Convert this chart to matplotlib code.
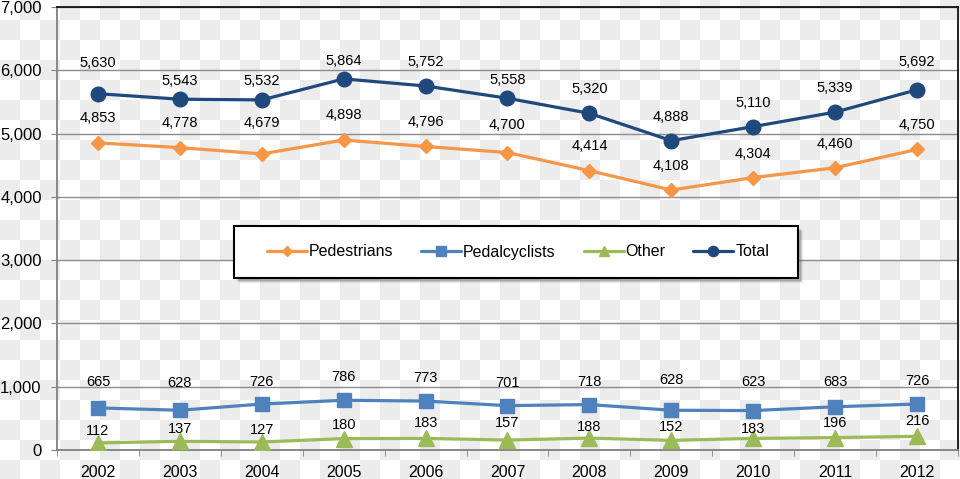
import numpy as np
import matplotlib
matplotlib.use("Agg")
import matplotlib.pyplot as plt
from matplotlib.patches import Rectangle

plt.rcParams['font.family'] = ['Liberation Sans', 'DejaVu Sans']

years = ['2002', '2003', '2004', '2005', '2006', '2007', '2008', '2009', '2010', '2011', '2012']
total = [5630, 5543, 5532, 5864, 5752, 5558, 5320, 4888, 5110, 5339, 5692]
pedestrians = [4853, 4778, 4679, 4898, 4796, 4700, 4414, 4108, 4304, 4460, 4750]
pedalcyclists = [665, 628, 726, 786, 773, 701, 718, 628, 623, 683, 726]
other = [112, 137, 127, 180, 183, 157, 188, 152, 183, 196, 216]

# data-label lift above each point, in pixels (as placed in the original)
lift_total = [31, 18, 19, 18, 24, 18, 24, 24, 24, 24, 28]
lift_ped = [25, 25, 31, 25, 24, 28, 25, 24, 24, 24, 24]
lift_pedal = [26, 27, 22, 23, 23, 23, 23, 30, 29, 25, 23]
lift_other = [12, 12, 12, 14, 15, 17, 11, 13, 9, 15, 15]

W, H = 960, 479
fig = plt.figure(figsize=(W / 100, H / 100), dpi=100)

# checkered (transparency) background, 20px squares
bg = fig.add_axes([0, 0, 1, 1], zorder=-10)
yy, xx = np.mgrid[0:H, 0:W]
checker = np.where(((xx // 20) + (yy // 20)) % 2 == 1, 0.925, 1.0)
bg.imshow(checker, cmap='gray', vmin=0, vmax=1, interpolation='nearest',
          aspect='auto', extent=(0, W, H, 0))
bg.set_axis_off()

ax = fig.add_axes([57 / W, 1 - 450 / H, (958 - 57) / W, (450 - 7) / H])
ax.set_facecolor('none')

x = np.arange(len(years))

series = [
    ('Pedestrians', pedestrians, lift_ped, '#F79646', 'D', 7.5),
    ('Pedalcyclists', pedalcyclists, lift_pedal, '#4F81BD', 's', 10.5),
    ('Other', other, lift_other, '#9BBB59', '^', 11),
    ('Total', total, lift_total, '#1F497D', 'o', 10.5),
]

for name, vals, lifts, col, mk, ms in series:
    ax.plot(x, vals, color=col, lw=2.3, marker=mk, ms=ms, label=name,
            solid_capstyle='round', zorder=3)
    for xi, v, dy in zip(x, vals, lifts):
        ax.annotate(f'{v:,}', (xi, v), xytext=(0, dy), textcoords='offset pixels',
                    ha='center', va='center', fontsize=10.5, zorder=4)

ax.set_xlim(-0.5, len(years) - 0.5)
ax.set_ylim(0, 7000)
ax.set_yticks(range(0, 7001, 1000))
ax.set_yticklabels([f'{v:,}' for v in range(0, 7001, 1000)], fontsize=12)
ax.set_xticks(x)
ax.set_xticklabels(years, fontsize=11.5)
ax.set_xticks(np.arange(-0.5, len(years), 1), minor=True)
ax.tick_params(axis='x', which='major', length=0, pad=11)
ax.tick_params(axis='x', which='minor', length=4, color='#808080', direction='out')
ax.tick_params(axis='y', length=4, color='#808080', pad=7)

ax.xaxis.grid(False, which='both')
ax.yaxis.grid(True, color='#8c8c8c', lw=1)
ax.set_axisbelow(True)

for s in ['left', 'bottom']:
    ax.spines[s].set_color('#808080')
    ax.spines[s].set_linewidth(1.3)
for s in ['top', 'right']:
    ax.spines[s].set_color('#111111')
    ax.spines[s].set_linewidth(1.3)

# legend box with drop shadow (pixel coords of the frame)
lx0, ly0, lx1, ly1 = 234, 226, 798, 278
for d, a in [(5, 0.12), (4, 0.18), (3, 0.25)]:
    ax.add_patch(Rectangle(((lx0 + d) / W, 1 - (ly1 + d) / H), (lx1 - lx0) / W,
                           (ly1 - ly0) / H, transform=fig.transFigure, clip_on=False,
                           facecolor='#555555', edgecolor='none', alpha=a, zorder=5))
ax.add_patch(Rectangle((lx0 / W, 1 - ly1 / H), (lx1 - lx0) / W, (ly1 - ly0) / H,
                       transform=fig.transFigure, clip_on=False, facecolor='white',
                       edgecolor='black', lw=1.5, zorder=6))

leg = ax.legend(loc='center', bbox_to_anchor=(518 / W, 1 - 252 / H),
                bbox_transform=fig.transFigure, ncol=4, fontsize=11.5,
                frameon=False, handlelength=2.5, columnspacing=1.75,
                handletextpad=0.12, borderpad=0, borderaxespad=0, markerscale=0.7)
leg.set_zorder(7)

fig.savefig('out.png', dpi=100)
